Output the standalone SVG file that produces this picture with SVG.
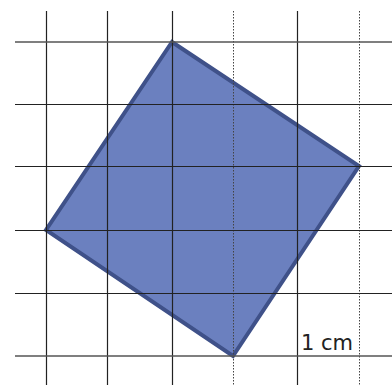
<svg xmlns="http://www.w3.org/2000/svg" width="392" height="385" viewBox="0 0 392 385">
<style>
.g{stroke:#222;stroke-width:1.2;fill:none}
.gl{stroke:#555;stroke-width:1.6;fill:none}
.d{stroke:#444;stroke-width:1;stroke-dasharray:1.5 1.5;fill:none}
.sq{fill:#6b80bf;stroke:#3f5189;stroke-width:4;stroke-linejoin:miter}
.t{font-family:"DejaVu Sans",Verdana,sans-serif;font-size:21px;fill:#222}
</style>
<rect width="392" height="385" fill="#fff"/>
<g id="square">
<polygon class="sq" points="172,42 359,166 233,356 46,230"/>
</g>
<g id="grid">
<line class="g" x1="46.5" y1="11" x2="46.5" y2="385"/>
<line class="g" x1="107.5" y1="11" x2="107.5" y2="385"/>
<line class="g" x1="172.5" y1="11" x2="172.5" y2="385"/>
<line class="d" x1="233.5" y1="11" x2="233.5" y2="385"/>
<line class="g" x1="297.5" y1="11" x2="297.5" y2="385"/>
<line class="d" x1="359.5" y1="11" x2="359.5" y2="385"/>
<line class="gl" x1="15" y1="42" x2="392" y2="42"/>
<line class="g" x1="15" y1="104.5" x2="392" y2="104.5"/>
<line class="g" x1="15" y1="166.5" x2="392" y2="166.5"/>
<line class="g" x1="15" y1="230.5" x2="392" y2="230.5"/>
<line class="g" x1="15" y1="293.5" x2="392" y2="293.5"/>
<line class="gl" x1="15" y1="356" x2="392" y2="356"/>
</g>
<g id="label">
<text class="t" x="301" y="350">1 cm</text>
</g>
</svg>
